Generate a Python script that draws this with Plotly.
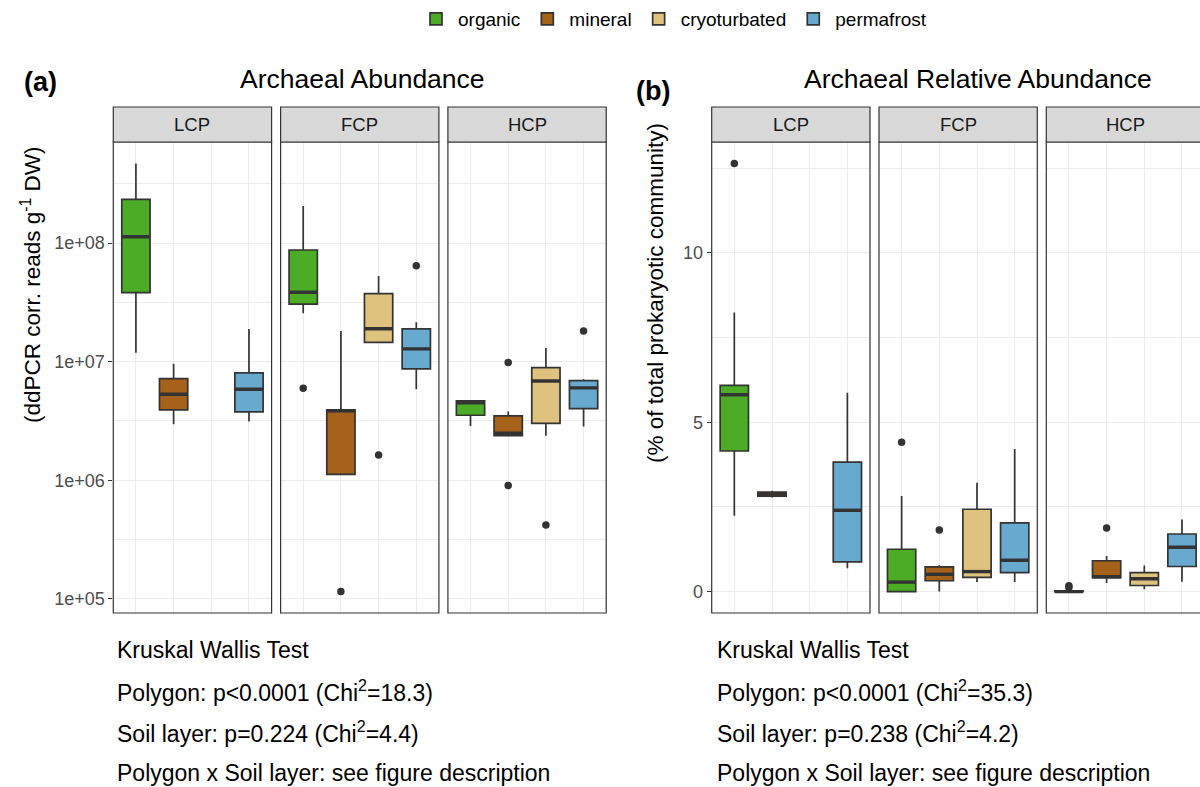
import numpy as np
import plotly.graph_objects as go

# ---- data -------------------------------------------------------------
layers = ["organic", "mineral", "cryoturbated", "permafrost"]
polygons = ["LCP", "FCP", "HCP"]
layer_colors = ["#4DAC26", "#A6611A", "#DFC27D", "#67A9CF"]

# Archaeal abundance (ddPCR corr. reads per g DW)
# per layer: [lower whisker, Q1, median, Q3, upper whisker]; None = no samples
abund_lcp = [[1.19e7, 3.81e7, 1.13e8, 2.33e8, 4.69e8],
             [2.97e6, 3.92e6, 5.31e6, 7.19e6, 9.57e6],
             None,
             [3.12e6, 3.77e6, 5.85e6, 8.04e6, 1.88e7]]
abund_fcp = [[2.56e7, 3.05e7, 3.84e7, 8.73e7, 2.05e8],
             [1.12e6, 1.12e6, 3.85e6, 3.92e6, 1.81e7],
             [1.45e7, 1.45e7, 1.89e7, 3.74e7, 5.27e7],
             [5.85e6, 8.67e6, 1.28e7, 1.89e7, 2.15e7]]
abund_hcp = [[2.87e6, 3.53e6, 4.49e6, 4.66e6, 4.75e6],
             [2.37e6, 2.37e6, 2.49e6, 3.49e6, 3.79e6],
             [2.37e6, 3.01e6, 6.87e6, 8.91e6, 1.30e7],
             [2.83e6, 4.02e6, 6.00e6, 6.92e6, 7.10e6]]
abund_out_lcp = [[], [], [], []]
abund_out_fcp = [[5.97e6], [1.15e5], [1.63e6], [6.44e7]]
abund_out_hcp = [[], [9.82e6, 9.02e5], [4.19e5], [1.81e7]]

# Archaeal relative abundance (% of total prokaryotic community)
rel_lcp = [[2.24, 4.15, 5.81, 6.09, 8.24],
           [2.78, 2.82, 2.88, 2.94, 2.98],
           None,
           [0.69, 0.875, 2.40, 3.82, 5.87]]
rel_fcp = [[0.0, 0.0, 0.28, 1.25, 2.82],
           [0.0, 0.32, 0.51, 0.73, 0.78],
           [0.28, 0.42, 0.59, 2.43, 3.21],
           [0.28, 0.56, 0.925, 2.03, 4.21]]
rel_hcp = [[0.0, 0.0, 0.0, 0.02, 0.03],
           [0.25, 0.41, 0.44, 0.91, 1.05],
           [0.07, 0.18, 0.38, 0.56, 0.77],
           [0.29, 0.74, 1.31, 1.70, 2.13]]
rel_out_lcp = [[12.64], [], [], []]
rel_out_fcp = [[4.41], [1.82], [], []]
rel_out_hcp = [[0.17, 0.12], [1.88], [], []]

abund_ticks = [1e5, 1e6, 1e7, 1e8]
abund_ticktext = ["1e+05", "1e+06", "1e+07", "1e+08"]
rel_ticks = [0, 5, 10]

stats_a = [("Polygon", "p&lt;0.0001", "18.3"), ("Soil layer", "p=0.224", "4.4")]
stats_b = [("Polygon", "p&lt;0.0001", "35.3"), ("Soil layer", "p=0.238", "4.2")]

# ---- layout helpers ---------------------------------------------------
W, H = 1200, 787
FONT = "Liberation Sans, Arial, Helvetica, sans-serif"
DARK = "#333333"
GRID = "#EBEBEB"


def fx(px):
    return px / W


def fy(py):
    return 1 - py / H


PLOT_TOP, PLOT_BOT = 142, 613
STRIP_H = 35
FACET_W = 158.3
panel_a_left = [113.3, 280.6, 447.9]
panel_b_left = [711.7, 879.0, 1046.3]

fig = go.Figure()
shapes, annotations = [], []
legend_done = set()
BOX_W = 0.75


def add_facet(idx, left_px, summaries, outliers, log_scale, yrange,
              tickvals, ticktext, show_y, strip_label):
    xa = "x" if idx == 1 else f"x{idx}"
    ya = "y" if idx == 1 else f"y{idx}"
    right_px = left_px + FACET_W
    dom_right = min(right_px, W)
    unit = FACET_W / 4.2
    xr = [0.4, 0.4 + (dom_right - left_px) / unit]

    for k, summ in enumerate(summaries):
        pos = k + 1
        if summ is not None:
            lo, q1, med, q3, hi = summ
            show = layers[k] not in legend_done
            legend_done.add(layers[k])
            fig.add_trace(go.Box(
                x=[pos], q1=[q1], median=[med], q3=[q3],
                lowerfence=[lo], upperfence=[hi],
                width=BOX_W, whiskerwidth=0, boxpoints=False,
                fillcolor=layer_colors[k],
                line=dict(color=DARK, width=1.7),
                name=layers[k], legendgroup=layers[k], showlegend=show,
                legendrank=k + 1, hoverinfo="skip",
                xaxis=xa, yaxis=ya))
            # thicker median bar
            fig.add_trace(go.Scatter(
                x=[pos - BOX_W / 2, pos + BOX_W / 2], y=[med, med],
                mode="lines", line=dict(color=DARK, width=3.4),
                showlegend=False, hoverinfo="skip", xaxis=xa, yaxis=ya))
        pts = outliers[k]
        if pts:
            fig.add_trace(go.Scatter(
                x=[pos] * len(pts), y=pts, mode="markers",
                marker=dict(color=DARK, size=7.5),
                showlegend=False, hoverinfo="skip", xaxis=xa, yaxis=ya))

    key_x = "xaxis" if idx == 1 else f"xaxis{idx}"
    key_y = "yaxis" if idx == 1 else f"yaxis{idx}"
    fig.layout[key_x] = dict(
        domain=[fx(left_px), fx(dom_right)], range=xr, anchor=ya,
        tickvals=[1, 2, 3, 4], showticklabels=False, ticks="",
        showgrid=True, gridcolor=GRID, gridwidth=1.1, zeroline=False,
        showline=False, fixedrange=True)
    if log_scale:
        mids = [10 ** (e + 0.5) for e in range(4, 9)]
    else:
        mids = [v + 2.5 for v in range(-5, 15, 5)]
    fig.layout[key_y] = dict(
        domain=[fy(PLOT_BOT), fy(PLOT_TOP)], range=yrange, anchor=xa,
        type="log" if log_scale else "linear",
        tickvals=tickvals, ticktext=ticktext,
        showticklabels=show_y, ticks="outside" if show_y else "",
        ticklen=4, tickwidth=1.1, tickcolor=DARK,
        tickfont=dict(family=FONT, size=18, color="#4D4D4D"),
        showgrid=True, gridcolor=GRID, gridwidth=1.1, zeroline=False,
        showline=False, fixedrange=True,
        minor=dict(tickvals=mids, showgrid=True, gridcolor=GRID,
                   gridwidth=0.6, ticks=""))

    # panel border
    shapes.append(dict(type="rect", xref="paper", yref="paper",
                       x0=fx(left_px), x1=fx(right_px),
                       y0=fy(PLOT_BOT), y1=fy(PLOT_TOP),
                       line=dict(color=DARK, width=1.2), layer="above"))
    # strip
    shapes.append(dict(type="rect", xref="paper", yref="paper",
                       x0=fx(left_px), x1=fx(right_px),
                       y0=fy(PLOT_TOP), y1=fy(PLOT_TOP - STRIP_H),
                       fillcolor="#D9D9D9",
                       line=dict(color=DARK, width=1.2), layer="above"))
    annotations.append(dict(x=fx(left_px + FACET_W / 2),
                            y=fy(PLOT_TOP - STRIP_H / 2),
                            xref="paper", yref="paper", text=strip_label,
                            xanchor="center", yanchor="middle",
                            showarrow=False,
                            font=dict(family=FONT, size=18.5,
                                      color="#1A1A1A")))


def padded_range(groups, outs, log_scale):
    vals = []
    for g in groups:
        for s in g:
            if s is not None:
                vals += list(s)
    for o in outs:
        for lst in o:
            vals += list(lst)
    v = np.array(vals, dtype=float)
    if log_scale:
        v = np.log10(v)
    lo, hi = v.min(), v.max()
    pad = 0.05 * (hi - lo)
    return [lo - pad, hi + pad]


abund_groups = [abund_lcp, abund_fcp, abund_hcp]
abund_outs = [abund_out_lcp, abund_out_fcp, abund_out_hcp]
rel_groups = [rel_lcp, rel_fcp, rel_hcp]
rel_outs = [rel_out_lcp, rel_out_fcp, rel_out_hcp]

yr_a = padded_range(abund_groups, abund_outs, True)
yr_b = padded_range(rel_groups, rel_outs, False)

for i in range(3):
    add_facet(i + 1, panel_a_left[i], abund_groups[i], abund_outs[i], True,
              yr_a, abund_ticks, abund_ticktext, i == 0, polygons[i])
for i in range(3):
    add_facet(i + 4, panel_b_left[i], rel_groups[i], rel_outs[i], False,
              yr_b, rel_ticks, [str(t) for t in rel_ticks], i == 0,
              polygons[i])


# ---- titles and labels -----------------------------------------------
def text(x, y, s, size, xanchor="center", bold=False, angle=0,
         color="#000000"):
    annotations.append(dict(
        x=fx(x), y=fy(y), xref="paper", yref="paper", text=s,
        showarrow=False, xanchor=xanchor, yanchor="middle", textangle=angle,
        font=dict(family=FONT, size=size, color=color,
                  weight="bold" if bold else "normal")))


text(40, 82, "(a)", 27, bold=True)
text(653, 91, "(b)", 27, bold=True)
text(362.5, 79, "Archaeal Abundance", 26.5)
text(977.5, 79, "Archaeal Relative Abundance", 26.5)
text(31, 285, "(ddPCR corr. reads g<sup>-1</sup> DW)", 22.5, angle=-90)
text(655, 293, "(% of total prokaryotic community)", 22.5, angle=-90)

for x0, stats in ((115, stats_a), (715, stats_b)):
    lines = ["Kruskal Wallis Test"]
    for name, p, chi in stats:
        lines.append(f"{name}: {p} (Chi<sup>2</sup>={chi})")
    lines.append("Polygon x Soil layer: see figure description")
    for j, ln in enumerate(lines):
        text(x0, 650 + j * 41, ln, 23, xanchor="left")

fig.update_layout(
    width=W, height=H,
    margin=dict(l=0, r=0, t=0, b=0),
    paper_bgcolor="white", plot_bgcolor="white",
    shapes=shapes, annotations=annotations,
    font=dict(family=FONT),
    showlegend=True,
    legend=dict(orientation="h", x=fx(673), xanchor="center",
                y=1, yanchor="top",
                font=dict(family=FONT, size=19, color="#000000"),
                itemwidth=34, tracegroupgap=0, bgcolor="rgba(0,0,0,0)"),
)

fig.write_html("out.html")
